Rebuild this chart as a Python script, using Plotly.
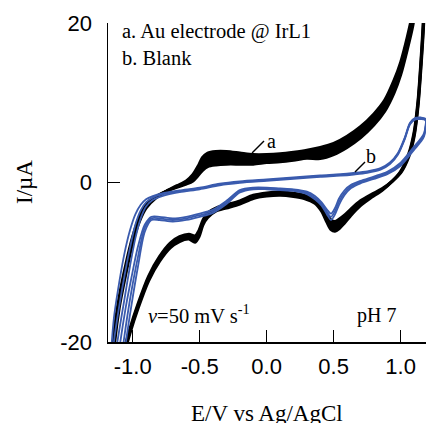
import plotly.graph_objects as go

# ---------------- data ----------------
x_tickvals = [-1.0, -0.5, 0.0, 0.5, 1.0]
x_ticktext = ["-1.0", "-0.5", "0.0", "0.5", "1.0"]
y_tickvals = [-20, 0, 20]
y_ticktext = ["-20", "0", "20"]

# curve a : Au electrode @ IrL1 (black, several cycles; c1 = first, c3 = last)
black_E_fwd = [-1.20, -1.17, -1.14, -1.10, -1.05, -1.00, -0.95, -0.90, -0.83, -0.75, -0.67, -0.60,
               -0.55, -0.51, -0.48, -0.44, -0.38, -0.30, -0.20, -0.10, 0.00, 0.10, 0.20, 0.30,
               0.40, 0.50, 0.60, 0.70, 0.80, 0.88, 0.95, 1.00, 1.05, 1.09, 1.13, 1.17, 1.20]
black_I_fwd_c1 = [-42, -26, -19, -14.3, -10.2, -6.8, -4.3, -2.8, -1.8, -1.1, -0.6, -0.2,
                  0.2, 0.9, 1.5, 2.0, 2.2, 2.3, 2.3, 2.3, 2.5, 2.6, 2.8, 3.05,
                  3.0, 3.5, 4.4, 5.6, 7.2, 8.9, 11.2, 13.5, 16.7, 19.6, 24, 29, 34]
black_I_fwd_c2 = [-42, -27, -20, -15, -10.8, -7.2, -4.6, -3.0, -1.9, -1.1, -0.5, 0.0,
                  0.6, 1.5, 2.3, 2.9, 3.1, 3.2, 3.0, 2.9, 3.0, 3.1, 3.3, 3.5,
                  3.7, 4.2, 5.1, 6.3, 7.9, 9.6, 12.0, 14.3, 17.5, 20.5, 25, 30, 35]
black_I_fwd_c3 = [-42, -28, -21, -15.7, -11.4, -7.6, -4.9, -3.2, -2.0, -1.1, -0.4, 0.2,
                  1.0, 2.1, 3.1, 3.7, 3.9, 3.9, 3.7, 3.5, 3.5, 3.6, 3.8, 4.05,
                  4.4, 4.9, 5.8, 7.0, 8.6, 10.3, 12.8, 15.1, 18.3, 21.4, 26, 31, 36]

black_E_rev = [1.20, 1.185, 1.17, 1.15, 1.13, 1.10, 1.06, 1.00, 0.94, 0.86, 0.78, 0.70,
               0.63, 0.58, 0.54, 0.51, 0.48, 0.45, 0.41, 0.36, 0.28, 0.20, 0.10, 0.00,
               -0.10, -0.20, -0.30, -0.38, -0.44, -0.475, -0.505, -0.535, -0.58, -0.65, -0.72, -0.80,
               -0.88, -0.96, -1.02, -1.07, -1.13, -1.20]
black_I_rev_c1 = [34, 26, 19.3, 14.0, 9.6, 5.7, 3.2, 1.2, 0.2, -0.8, -1.5, -2.3,
                  -3.3, -4.1, -4.6, -4.9, -4.7, -4.0, -3.0, -2.2, -1.6, -1.35, -1.2, -1.3,
                  -1.6, -2.3, -2.8, -3.2, -3.8, -4.7, -6.0, -6.7, -6.5, -6.8, -7.6, -9.3,
                  -11.7, -15.2, -18.3, -21.5, -27.5, -42]
black_I_rev_c2 = [35, 27, 20, 14.5, 10.0, 6.0, 3.4, 1.3, 0.2, -0.9, -1.7, -2.6,
                  -3.7, -4.6, -5.2, -5.5, -5.3, -4.5, -3.3, -2.4, -1.8, -1.55, -1.4, -1.5,
                  -1.8, -2.5, -3.0, -3.4, -4.1, -5.0, -6.4, -7.1, -6.8, -7.1, -7.9, -9.6,
                  -12.0, -15.5, -18.6, -21.8, -28, -42]
black_I_rev_c3 = [36, 28, 20.7, 15.0, 10.4, 6.3, 3.6, 1.4, 0.2, -1.0, -1.9, -2.9,
                  -4.1, -5.1, -5.8, -6.1, -5.9, -5.0, -3.6, -2.6, -2.0, -1.75, -1.6, -1.7,
                  -2.0, -2.7, -3.2, -3.6, -4.4, -5.3, -6.8, -7.5, -7.1, -7.4, -8.2, -9.9,
                  -12.3, -15.8, -18.9, -22.1, -28.5, -42]

# curve b : blank (blue, a few cycles)
blue_E_fwd = [-1.20, -1.17, -1.14, -1.10, -1.06, -1.02, -0.98, -0.94, -0.90, -0.85, -0.78, -0.65,
              -0.50, -0.35, -0.20, 0.00, 0.20, 0.40, 0.55, 0.65, 0.75, 0.85, 0.92, 0.98,
              1.03, 1.07, 1.11, 1.15, 1.185]
blue_I_fwd_c1 = [-40, -24, -17, -12.5, -8.8, -6.0, -4.0, -2.8, -2.1, -1.7, -1.35, -1.0,
                 -0.65, -0.15, 0.15, 0.4, 0.65, 0.9, 1.05, 1.2, 1.4, 1.8, 2.5, 3.7,
                 5.6, 7.5, 8.1, 8.15, 8.0]
blue_I_fwd_c2 = [-40, -27, -20, -15.5, -11.6, -8.2, -5.3, -3.5, -2.5, -1.9, -1.5, -1.1,
                 -0.75, -0.25, 0.05, 0.3, 0.55, 0.8, 0.95, 1.1, 1.3, 1.7, 2.4, 3.6,
                 5.5, 7.4, 8.0, 8.05, 7.9]
blue_I_fwd_c3 = [-40, -30, -23, -18.5, -14.5, -10.5, -7.0, -4.5, -3.0, -2.2, -1.7, -1.2,
                 -0.85, -0.35, -0.05, 0.2, 0.45, 0.7, 0.85, 1.0, 1.2, 1.6, 2.3, 3.5,
                 5.4, 7.3, 7.9, 7.95, 7.8]

blue_E_rev = [1.185, 1.175, 1.15, 1.10, 1.00, 0.90, 0.80, 0.70, 0.63, 0.58, 0.54, 0.51,
              0.48, 0.45, 0.41, 0.36, 0.30, 0.20, 0.10, 0.00, -0.10, -0.20, -0.30, -0.40,
              -0.50, -0.60, -0.70, -0.80, -0.86, -0.91, -0.96, -1.01, -1.05, -1.10, -1.15, -1.20]
blue_I_rev_c1 = [8.0, 6.2, 5.5, 4.5, 2.5, 1.35, 0.75, 0.2, -0.3, -1.0, -2.0, -3.2,
                 -3.9, -3.4, -2.5, -1.7, -1.15, -0.85, -0.75, -0.65, -0.65, -0.95, -2.3, -3.4,
                 -3.9, -4.3, -4.5, -4.3, -4.3, -5.3, -8.0, -12.0, -15.5, -21, -29, -40]
blue_I_rev_c2 = [7.9, 6.0, 5.3, 4.3, 2.3, 1.2, 0.6, 0.05, -0.5, -1.3, -2.4, -3.6,
                 -4.3, -3.7, -2.7, -1.9, -1.3, -0.95, -0.85, -0.75, -0.75, -1.1, -2.5, -3.6,
                 -4.1, -4.5, -4.7, -4.5, -4.5, -5.7, -9.3, -13.7, -17.9, -24, -31, -40]
blue_I_rev_c3 = [7.8, 5.8, 5.1, 4.1, 2.1, 1.05, 0.45, -0.1, -0.7, -1.6, -2.8, -4.0,
                 -4.7, -4.0, -2.9, -2.1, -1.45, -1.05, -0.95, -0.85, -0.85, -1.25, -2.7, -3.8,
                 -4.3, -4.7, -4.9, -4.7, -4.7, -6.2, -10.5, -15.5, -20, -27, -34, -40]

# ---------------- figure ----------------
W, H = 426, 423
L, R, T, B = 108, 0, 23, 81
X_RANGE = [-1.184, 1.189]
Y_RANGE = [-20, 20]
BLACK = "#000000"
BLUE = "#3A5BAE"
SERIF = "Liberation Serif, Times New Roman, serif"
SANS = "Liberation Sans, Arial, sans-serif"
SPL = dict(shape="spline", smoothing=0.8)

fig = go.Figure()

# solid band covered by the many black cycles (between first and last cycle)
for E, lo, hi in [(black_E_fwd, black_I_fwd_c1, black_I_fwd_c3),
                  (black_E_rev, black_I_rev_c1, black_I_rev_c3)]:
    fig.add_trace(go.Scatter(
        x=E + E[::-1], y=hi + lo[::-1], mode="lines", fill="toself",
        fillcolor=BLACK, line=dict(color=BLACK, width=1, **SPL),
        showlegend=False, hoverinfo="skip"))

black_cycles = [(black_I_fwd_c1, black_I_rev_c1),
                (black_I_fwd_c2, black_I_rev_c2),
                (black_I_fwd_c3, black_I_rev_c3)]
for fwd, rev in black_cycles:
    fig.add_trace(go.Scatter(
        x=black_E_fwd + black_E_rev[1:], y=fwd + rev[1:], mode="lines",
        line=dict(color=BLACK, width=3, **SPL),
        showlegend=False, hoverinfo="skip"))

blue_cycles = [(blue_I_fwd_c1, blue_I_rev_c1),
               (blue_I_fwd_c2, blue_I_rev_c2),
               (blue_I_fwd_c3, blue_I_rev_c3)]
for fwd, rev in blue_cycles:
    fig.add_trace(go.Scatter(
        x=blue_E_fwd + blue_E_rev[1:], y=fwd + rev[1:], mode="lines",
        line=dict(color=BLUE, width=1.8, **SPL),
        showlegend=False, hoverinfo="skip"))


def px(xp):
    return (xp - L) / (W - L - R)


def py(yp):
    return (H - B - yp) / (H - T - B)


annots = [
    dict(text="a. Au electrode @ IrL1", x=px(120), y=py(31.5), xanchor="left", size=20.5),
    dict(text="b. Blank", x=px(120), y=py(58), xanchor="left", size=20.5),
    dict(text="<i>v</i>=50 mV s<sup>-1</sup>", x=px(146), y=py(314), xanchor="left", size=20.5),
    dict(text="pH 7", x=px(355), y=py(315), xanchor="left", size=20),
    dict(text="a", x=px(271), y=py(141), xanchor="center", size=20),
    dict(text="b", x=px(371), y=py(156), xanchor="center", size=20),
    dict(text="E/V vs Ag/AgCl", x=px(267), y=py(413), xanchor="center", size=23),
]
for a in annots:
    fig.add_annotation(text=a["text"], x=a["x"], y=a["y"], xref="paper", yref="paper",
                       xanchor=a["xanchor"], yanchor="middle", showarrow=False,
                       font=dict(family=SERIF, size=a["size"], color=BLACK))
fig.add_annotation(text="I/\u00b5A", x=px(24), y=py(182), xref="paper", yref="paper",
                   xanchor="center", yanchor="middle", showarrow=False, textangle=-90,
                   font=dict(family=SERIF, size=23, color=BLACK))

# pointer lines for labels a and b
for (x0, y0, x1, y1) in [(252, 153, 264, 141), (355, 172, 365, 162)]:
    fig.add_shape(type="line", xref="paper", yref="paper",
                  x0=px(x0), y0=py(y0), x1=px(x1), y1=py(y1),
                  line=dict(color=BLACK, width=1.5))

fig.update_layout(
    width=W, height=H,
    margin=dict(l=L, r=R, t=T, b=B, pad=0),
    paper_bgcolor="white", plot_bgcolor="white",
    showlegend=False,
)
fig.update_xaxes(range=X_RANGE, tickvals=x_tickvals, ticktext=x_ticktext,
                 ticks="inside", ticklen=12, tickwidth=1.5, tickcolor=BLACK,
                 showline=True, linecolor=BLACK, linewidth=1.5,
                 showgrid=False, zeroline=False, ticklabelstandoff=4,
                 tickfont=dict(family=SANS, size=22, color=BLACK))
fig.update_yaxes(range=Y_RANGE, tickvals=y_tickvals, ticktext=y_ticktext,
                 ticks="inside", ticklen=12, tickwidth=1.5, tickcolor=BLACK,
                 showline=True, linecolor=BLACK, linewidth=1.5,
                 showgrid=False, zeroline=False, ticklabelstandoff=10,
                 tickfont=dict(family=SANS, size=22, color=BLACK))

# the page is photographed from its top-left corner: drop the default body margin
fig.write_html("out.html",
               config={"displayModeBar": False, "staticPlot": True},
               post_script="document.body.style.margin='0px';document.body.style.overflow='hidden';")
